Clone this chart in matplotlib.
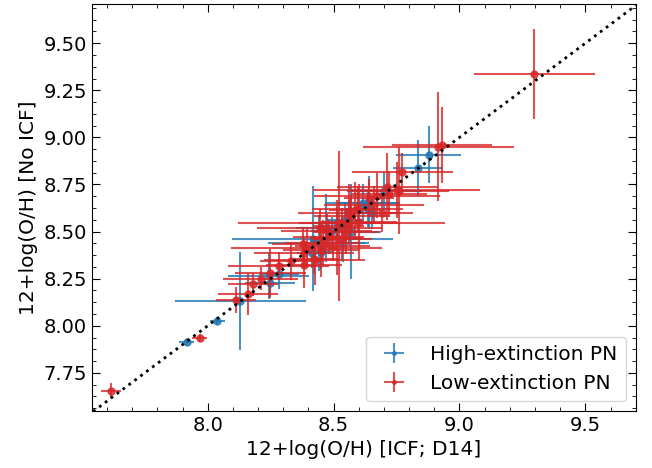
import numpy as np
import matplotlib
matplotlib.use("Agg")
import matplotlib.pyplot as plt
from matplotlib.ticker import MultipleLocator

# High-extinction PN
high_x = [7.917, 8.038, 8.13, 8.242, 8.247, 8.282, 8.448, 8.413, 8.417, 8.44,
          8.492, 8.512, 8.536, 8.544, 8.615, 8.639, 8.635, 8.651, 8.702, 8.835,
          8.877, 8.47, 8.57]
high_y = [7.915, 8.025, 8.13, 8.264, 8.225, 8.277, 8.39, 8.388, 8.463, 8.44,
          8.505, 8.548, 8.441, 8.559, 8.654, 8.654, 8.622, 8.596, 8.718, 8.837,
          8.908, 8.52, 8.50]
high_xerr = [0.03, 0.03, 0.26, 0.16, 0.10, 0.08, 0.05, 0.06, 0.32, 0.20,
             0.08, 0.10, 0.09, 0.07, 0.15, 0.12, 0.09, 0.10, 0.15, 0.10,
             0.13, 0.12, 0.12]
high_yerr = [0.02, 0.02, 0.26, 0.12, 0.07, 0.08, 0.09, 0.08, 0.28, 0.15,
             0.07, 0.08, 0.10, 0.10, 0.10, 0.14, 0.10, 0.08, 0.10, 0.15,
             0.15, 0.18, 0.25]

# Low-extinction PN
low_x = [7.615, 7.968, 8.111, 8.16, 8.181, 8.21, 8.249, 8.282, 8.329, 8.382,
         8.382, 8.425, 8.393, 8.377, 8.444, 8.456, 8.472, 8.512, 8.532, 8.496,
         8.532, 8.52, 8.563, 8.571, 8.583, 8.595, 8.671, 8.694, 8.714, 8.758,
         8.773, 8.916, 8.93, 9.298, 8.424, 8.60, 8.64, 8.72, 8.48, 8.55,
         8.45, 8.56, 8.66, 8.75]
low_y = [7.654, 7.935, 8.137, 8.169, 8.22, 8.25, 8.278, 8.319, 8.344, 8.323,
         8.385, 8.349, 8.415, 8.436, 8.521, 8.441, 8.505, 8.468, 8.463, 8.426,
         8.543, 8.53, 8.548, 8.585, 8.612, 8.622, 8.691, 8.596, 8.739, 8.718,
         8.815, 8.95, 8.96, 9.335, 8.356, 8.55, 8.68, 8.70, 8.47, 8.50,
         8.40, 8.60, 8.64, 8.72]
low_xerr = [0.04, 0.03, 0.08, 0.12, 0.10, 0.15, 0.14, 0.20, 0.12, 0.15,
            0.20, 0.20, 0.30, 0.12, 0.25, 0.15, 0.18, 0.10, 0.12, 0.15,
            0.41, 0.10, 0.20, 0.15, 0.10, 0.18, 0.25, 0.12, 0.20, 0.20,
            0.20, 0.30, 0.20, 0.24, 0.10, 0.15, 0.10, 0.15, 0.14, 0.13,
            0.15, 0.20, 0.20, 0.33]
low_yerr = [0.04, 0.02, 0.07, 0.11, 0.06, 0.06, 0.13, 0.07, 0.10, 0.12,
            0.08, 0.13, 0.10, 0.09, 0.10, 0.12, 0.09, 0.20, 0.12, 0.08,
            0.08, 0.40, 0.12, 0.10, 0.15, 0.12, 0.12, 0.10, 0.18, 0.23,
            0.10, 0.29, 0.20, 0.24, 0.08, 0.20, 0.10, 0.12, 0.09, 0.12,
            0.14, 0.15, 0.10, 0.15]

fig = plt.figure(figsize=(6.52, 4.68), dpi=100)
ax = fig.add_axes([0.141, 0.122, 0.834, 0.869])

lims = [7.545, 9.705]
ax.plot(lims, lims, ':', color='black', lw=2, zorder=5)

ax.errorbar(high_x, high_y, xerr=high_xerr, yerr=high_yerr, fmt='o', ms=5,
            color='#1f77b4', ecolor='#1f77b4', elinewidth=1.5, alpha=0.8,
            label='High-extinction PN', zorder=3)
ax.errorbar(low_x, low_y, xerr=low_xerr, yerr=low_yerr, fmt='o', ms=5,
            color='#d62728', ecolor='#d62728', elinewidth=1.5, alpha=0.8,
            label='Low-extinction PN', zorder=4)

ax.set_xlim(7.54, 9.70)
ax.set_ylim(7.548, 9.707)
ax.xaxis.set_major_locator(MultipleLocator(0.5))
ax.xaxis.set_minor_locator(MultipleLocator(0.1))
ax.yaxis.set_major_locator(MultipleLocator(0.25))
ax.yaxis.set_minor_locator(MultipleLocator(0.0625))
ax.tick_params(which='both', direction='in', top=True, right=True, labelsize=14)
ax.tick_params(which='major', length=6)
ax.tick_params(which='minor', length=3)

ax.set_xlabel('12+log(O/H) [ICF; D14]', fontsize=14.5)
ax.set_ylabel('12+log(O/H) [No ICF]', fontsize=14.5)

ax.legend(loc='lower right', fontsize=14.5, markerscale=0.5)

fig.savefig('out.png', dpi=100)
